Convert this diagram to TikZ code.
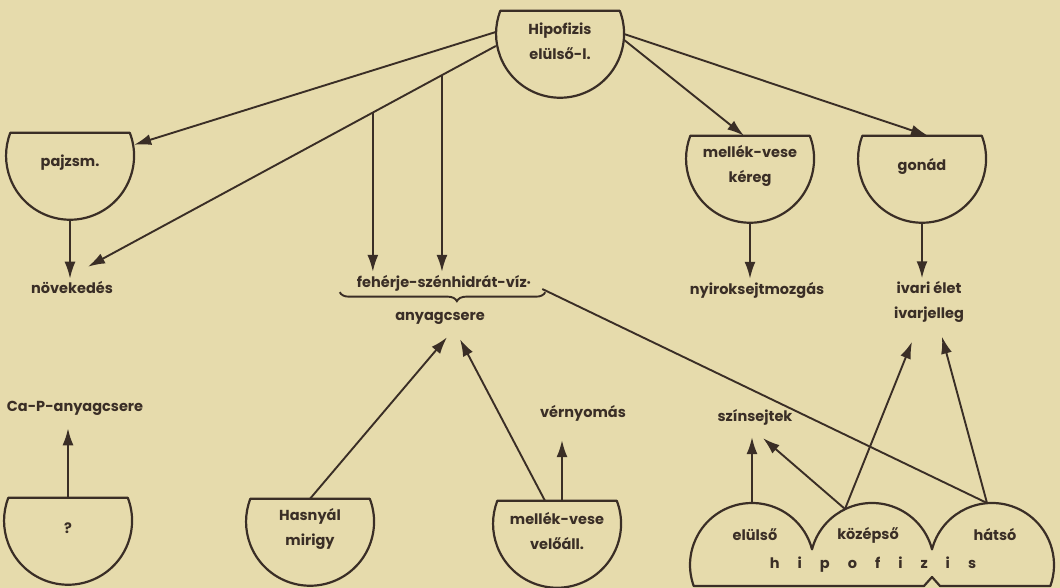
\documentclass[tikz,border=0pt]{standalone}
\usepackage{fontspec}
\setmainfont{Poppins}
\usetikzlibrary{arrows.meta, decorations.pathreplacing}
\definecolor{paper}{RGB}{230,219,172}
\definecolor{ink}{RGB}{58,46,38}

\begin{document}
\begin{tikzpicture}[
  x=1pt, y=1pt, color=ink,
  font=\bfseries\fontsize{14.5}{25}\selectfont,
  bowl/.style={minimum width=128pt, minimum height=60pt, inner sep=0pt, align=center},
  lbl/.style={inner sep=3pt, align=center},
  bowlline/.style={draw=ink, line width=2.2pt, line join=round},
  arrow/.style={-{Latex[length=17pt, width=11pt]}, draw=ink, line width=1.9pt},
  link/.style={draw=ink, line width=1.9pt},
  brace/.style={decorate, decoration={brace, mirror, amplitude=9pt, aspect=0.57}, draw=ink, line width=1.9pt}
]
\fill[paper] (0,0) rectangle (1060,588);
\useasboundingbox (0,0) rectangle (1060,588);

% glands
\node[bowl] (hipo) at (560,547) {Hipofizis\\elülső-l.};
\node[bowl] (pajzs) at (70,425) {pajzsm.};
\node[bowl] (mvkereg) at (750,422) {mellék-vese\\kéreg};
\node[bowl] (gonad) at (922,422) {gonád};
\node[bowl] (quest) at (68,60) {?};
\node[bowl] (hasny) at (310,59) {Hasnyál\\mirigy};
\node[bowl] (mvvelo) at (557,57) {mellék-vese\\velőáll.};

\foreach \n in {hipo,pajzs,mvkereg,gonad,quest,hasny,mvvelo} {
  \draw[bowlline] ([xshift=59.8pt]\n.north) arc[start angle=21, end angle=-201, radius=64] -- cycle;
  \coordinate (\n-bot) at ([yshift=-87pt]\n.north);
}

% effects
\node[lbl] (nov) at (72,300) {növekedés};
\node[lbl] (feh) at (444,305) {fehérje-szénhidrát-víz·};
\node[lbl] (anyag) at (440,270) {anyagcsere};
\node[lbl] (nyirok) at (757,298) {nyiroksejtmozgás};
\node[lbl] (ivari) at (929,286) {ivari élet\\ivarjelleg};
\node[lbl] (capa) at (75,180) {Ca-P-anyagcsere};
\node[lbl] (vernyo) at (583,175) {vérnyomás};
\node[lbl] (szin) at (755,171) {színsejtek};

\draw[brace] ([xshift=-14pt,yshift=2pt]feh.south west) -- ([xshift=11pt,yshift=2pt]feh.south east);

% hipofizis lobes
\draw[bowlline] (693.7,2) arc[start angle=199.8, end angle=14.6, radius=62]
  arc[start angle=165.4, end angle=14.6, radius=62]
  arc[start angle=165.4, end angle=-19.8, radius=62]
  -- (940,2) -- (932,11) -- (924,2) -- cycle;
\node (elulso) at (755,53) {elülső};
\node (kozep) at (868,53) {középső};
\node (hatso) at (995,53) {hátsó};
\node (hipofizis) at (873,23) {\spaceskip=18pt h i p o f i z i s};
\coordinate (elulso-top) at (752,85);
\coordinate (kozep-top) at (845,79);
\coordinate (hatso-top) at (987,85);

% connectors
\draw[arrow] ([yshift=9pt]hipo.west) -- ([yshift=-12pt]pajzs.north east);
\draw[arrow] ([yshift=-5pt]hipo.west) -- coordinate[pos=0.132] (br1) coordinate[pos=0.3015] (br2) ([xshift=16pt,yshift=12pt]nov.north);
\draw[arrow] (br1) -- (br1 |- feh.north);
\draw[arrow] (br2) -- (br2 |- feh.north);
\draw[arrow] ([yshift=1pt]hipo.east) -- ([xshift=-6pt]mvkereg.north);
\draw[arrow] ([yshift=7pt]hipo.east) -- ([xshift=6pt]gonad.north);
\draw[arrow] (pajzs-bot) -- (pajzs-bot |- nov.north);
\draw[arrow] (mvkereg-bot) -- (mvkereg-bot |- nyirok.north);
\draw[arrow] (gonad-bot) -- (gonad-bot |- ivari.north);
\draw[arrow, shorten >=10pt] (quest.north) -- (quest.north |- capa.south);
\draw[arrow] (hasny.north) -- ([xshift=7pt,yshift=-10pt]anyag.south);
\draw[arrow] ([xshift=-12pt]mvvelo.north) -- ([xshift=20pt,yshift=-12pt]anyag.south);
\draw[arrow, shorten >=16pt] ([xshift=5pt]mvvelo.north) -- ([xshift=5pt]mvvelo.north |- vernyo.south);
\draw[arrow, shorten >=9pt] (elulso-top) -- (elulso-top |- szin.south);
\draw[arrow] (kozep-top) -- ([xshift=8pt,yshift=-10pt]szin.south);
\draw[arrow] (kozep-top) -- ([xshift=-17pt,yshift=-16pt]ivari.south);
\draw[arrow] (hatso-top) -- ([xshift=13pt,yshift=-11pt]ivari.south);
\draw[link] (hatso-top) -- ([xshift=8pt,yshift=-6pt]feh.east);
\end{tikzpicture}
\end{document}
